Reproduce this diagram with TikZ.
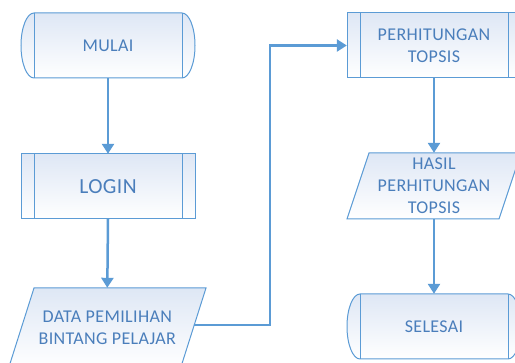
\documentclass[tikz,border=0pt]{standalone}
\usepackage{fontspec}
\setmainfont{Carlito}[LetterSpace=2]
\usetikzlibrary{arrows.meta}
\definecolor{linecol}{RGB}{91,155,213}
\definecolor{txtcol}{RGB}{74,126,187}
\definecolor{filltop}{RGB}{222,231,245}
\begin{document}
\begin{tikzpicture}[x=1pt,y=1pt,
  shapeline/.style={draw=linecol, line width=1pt, top color=filltop, bottom color=white},
  innerline/.style={draw=linecol, line width=1pt},
  box/.style={rectangle, draw=none, inner sep=0pt, text=txtcol, align=center,
    font=\fontsize{18}{22}\selectfont},
  flow/.style={draw=linecol, line width=2.5pt, -{Triangle[length=10pt,width=12pt]}}]
\clip (0,0) rectangle (515,363);
% MULAI (terminator)
\draw[shapeline] (34,350) arc[start angle=90,end angle=270,x radius=13,y radius=32.5]
  -- (182,285) arc[start angle=-90,end angle=90,x radius=13,y radius=32.5] -- cycle;
\draw[innerline] (34,350) -- (34,285) (182,350) -- (182,285);
\node[box, minimum width=148pt, minimum height=65pt] (mulai) at (108,317.5) {MULAI};
% LOGIN (predefined process)
\draw[shapeline] (21,144) rectangle (195,209);
\draw[innerline] (34,209) -- (34,144) (182,209) -- (182,144);
\node[box, minimum width=174pt, minimum height=65pt, font=\fontsize{21.5}{25}\selectfont] (login) at (108,176.5) {LOGIN};
% DATA (parallelogram)
\draw[shapeline] (34,75) -- (206,75) -- (180.6,-5) -- (8.6,-5) -- cycle;
\node[box, minimum width=172pt, minimum height=80pt] (data) at (107.3,35) {DATA PEMILIHAN\\BINTANG PELAJAR};
% PERHITUNGAN TOPSIS (predefined process)
\draw[shapeline] (347,285) rectangle (521,350);
\draw[innerline] (360,350) -- (360,285) (508,350) -- (508,285);
\node[box, minimum width=174pt, minimum height=65pt] (perh) at (434,317.5) {PERHITUNGAN\\TOPSIS};
% HASIL (parallelogram)
\draw[shapeline] (369,210) -- (521,210) -- (499,144) -- (347,144) -- cycle;
\node[box, minimum width=152pt, minimum height=66pt] (hasil) at (434,177) {HASIL\\PERHITUNGAN\\TOPSIS};
% SELESAI (terminator)
\draw[shapeline] (360,69) arc[start angle=90,end angle=270,x radius=13,y radius=32.5]
  -- (508,4) arc[start angle=-90,end angle=90,x radius=13,y radius=32.5] -- cycle;
\draw[innerline] (360,69) -- (360,4) (508,69) -- (508,4);
\node[box, minimum width=148pt, minimum height=65pt] (selesai) at (434,36.5) {SELESAI};
% connectors
\coordinate (turn) at (270,38);
\draw[flow] (mulai.south) -- (login.north);
\draw[flow] (login.south) -- (data.north);
\draw[flow] ([yshift=3pt]data.east) -- (turn) |- (perh.west);
\draw[flow] (perh.south) -- (hasil.north);
\draw[flow] (hasil.south) -- (selesai.north);
\end{tikzpicture}
\end{document}
